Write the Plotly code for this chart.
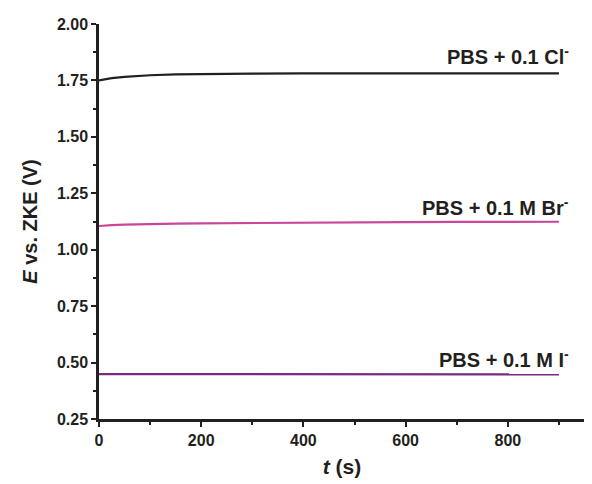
import plotly.graph_objects as go

t = [0, 10, 25, 50, 75, 100, 150, 200, 300, 400, 500, 600, 700, 800, 900]
e_cl = [1.750, 1.755, 1.760, 1.766, 1.770, 1.773, 1.777, 1.779, 1.780, 1.781, 1.781, 1.781, 1.781, 1.781, 1.781]
e_br = [1.105, 1.107, 1.109, 1.111, 1.113, 1.114, 1.116, 1.117, 1.119, 1.120, 1.121, 1.122, 1.123, 1.124, 1.124]
e_i = [0.449, 0.449, 0.449, 0.448, 0.448, 0.448, 0.448, 0.448, 0.448, 0.448, 0.448, 0.448, 0.448, 0.448, 0.448]

labels = ["PBS + 0.1 Cl<sup>-</sup>", "PBS + 0.1 M Br<sup>-</sup>", "PBS + 0.1 M I<sup>-</sup>"]
label_y = [1.86, 1.19, 0.52]
colors = ["#231f20", "#c9479a", "#7b2a82"]
series = [e_cl, e_br, e_i]

ink = "#231f20"
fam = "Liberation Sans, Arial"
fig = go.Figure()
for s, c in zip(series, colors):
    fig.add_trace(go.Scatter(x=t, y=s, mode="lines", line=dict(color=c, width=2.2), showlegend=False))

for lab, ly in zip(labels, label_y):
    fig.add_annotation(x=924, y=ly, text=lab, showarrow=False, xanchor="right", yanchor="middle",
                       font=dict(family=fam, size=20, color=ink, weight="bold"))

axis_common = dict(showline=True, linecolor=ink, linewidth=2.5, showgrid=False, zeroline=False,
                   ticks="outside", tickcolor=ink, tickwidth=2, ticklen=5, automargin=False,
                   tickfont=dict(family=fam, size=16, color=ink, weight="bold"))

fig.update_layout(
    width=592, height=484,
    margin=dict(l=91, r=15, t=16, b=73),
    paper_bgcolor="white", plot_bgcolor="white",
    xaxis=dict(range=[0, 951], tickvals=[0, 200, 400, 600, 800],
               minor=dict(ticks="outside", dtick=100, tick0=0, ticklen=3, tickcolor=ink, tickwidth=2),
               title=dict(text="<i>t</i> (s)", font=dict(family=fam, size=21, color=ink, weight="bold"), standoff=12),
               **axis_common),
    yaxis=dict(range=[0.25, 2.0], tickvals=[0.25, 0.5, 0.75, 1.0, 1.25, 1.5, 1.75, 2.0], tickformat=".2f",
               minor=dict(ticks="outside", dtick=0.125, tick0=0.25, ticklen=3, tickcolor=ink, tickwidth=2),
               title=dict(text="<i>E</i> vs. ZKE (V)", font=dict(family=fam, size=20, color=ink, weight="bold"), standoff=14),
               **axis_common),
)

fig.write_html("out.html")
